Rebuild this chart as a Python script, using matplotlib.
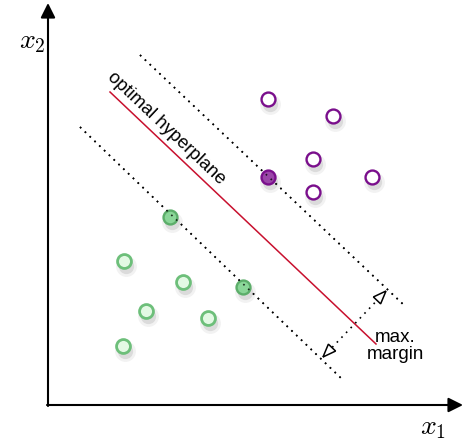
import matplotlib.pyplot as plt
from matplotlib.patches import Polygon
import numpy as np

plt.rcParams["mathtext.fontset"] = "cm"
plt.rcParams["font.family"] = ["Liberation Sans", "DejaVu Sans"]

# ----------------------------------------------------
# Data (pixel-like coordinates, y grows downward)
# ----------------------------------------------------
purple_x = [268, 333, 313, 372, 313]
purple_y = [99, 116, 159, 177, 192]
purple_sv_x = [268]
purple_sv_y = [177]

green_x = [124, 183, 146, 208, 123]
green_y = [261, 282, 311, 318, 346]
green_sv_x = [170, 243]
green_sv_y = [217, 287]

hyperplane_x = [110, 376]
hyperplane_y = [92, 344]
upper_margin_x = [140, 406]
upper_margin_y = [55, 307]
lower_margin_x = [80, 344]
lower_margin_y = [127, 381]

margin_arrow_x = [323, 386]
margin_arrow_y = [357, 291]

# ----------------------------------------------------
# Plot
# ----------------------------------------------------
fig = plt.figure(figsize=(4.64, 4.43), dpi=100)
ax = fig.add_axes([0, 0, 1, 1])
ax.set_xlim(0, 464)
ax.set_ylim(443, 0)
ax.axis("off")

# axes with arrows
ax.annotate("", xy=(48, 3), xytext=(48, 406),
            arrowprops=dict(arrowstyle="-|>", lw=1.5, color="black",
                            mutation_scale=22, shrinkA=0, shrinkB=0))
ax.annotate("", xy=(463, 405), xytext=(47, 405),
            arrowprops=dict(arrowstyle="-|>", lw=1.5, color="black",
                            mutation_scale=22, shrinkA=0, shrinkB=0))
ax.text(32, 42, r"$x_2$", fontsize=20, ha="center", va="center")
ax.text(433, 428, r"$x_1$", fontsize=20, ha="center", va="center")

# hyperplane and margins
ax.plot(hyperplane_x, hyperplane_y, color="#c8102e", lw=1.1)
ax.plot(upper_margin_x, upper_margin_y, color="black", lw=1.2,
        linestyle=(0, (1, 3)))
ax.plot(lower_margin_x, lower_margin_y, color="black", lw=1.2,
        linestyle=(0, (1, 3)))

# margin arrow
ax.plot(margin_arrow_x, margin_arrow_y, color="black", lw=1.2,
        linestyle=(0, (1, 3)))
tips = np.column_stack([margin_arrow_x, margin_arrow_y]).astype(float)
d = tips[1] - tips[0]
d = d / np.linalg.norm(d)
n = np.array([-d[1], d[0]])
for tip, direction in [(tips[0], -d), (tips[1], d)]:
    base = tip - direction * 13
    tri = np.array([tip, base + n * 5, base - n * 5])
    ax.add_patch(Polygon(tri, closed=True, facecolor="white",
                         edgecolor="black", lw=1.1, zorder=5))

# labels
slope = np.degrees(np.arctan2(hyperplane_y[1] - hyperplane_y[0],
                              hyperplane_x[1] - hyperplane_x[0]))
ax.text(166, 128, "optimal hyperplane", fontsize=13.2, rotation=-slope,
        rotation_mode="anchor", ha="center", va="center")
ax.text(395, 346, "max.\nmargin", fontsize=13.5, ha="center", va="center",
        linespacing=1.05)

# shadows
for xs, ys in [(purple_x + purple_sv_x, purple_y + purple_sv_y),
               (green_x + green_sv_x, green_y + green_sv_y)]:
    sx = np.array(xs) + 2
    sy = np.array(ys) + 5
    ax.plot(sx, sy, "o", ms=15, color="gray", alpha=0.10, mec="none")
    ax.plot(sx, sy, "o", ms=11, color="gray", alpha=0.20, mec="none")

# points
ax.plot(purple_x, purple_y, "o", ms=10, mfc="white", mec="#7a0f8c",
        mew=1.7, zorder=6)
ax.plot(purple_sv_x, purple_sv_y, "o", ms=10, mfc="#9a46a8", mec="#7a0f8c",
        mew=1.7, zorder=6)
ax.plot(green_x, green_y, "o", ms=10, mfc="#e3f9e4", mec="#6dbf7a",
        mew=2.0, zorder=6)
ax.plot(green_sv_x, green_sv_y, "o", ms=10, mfc="#8ad698", mec="#5cae6a",
        mew=1.7, zorder=6)

# dotted lines on top of support vectors
ax.plot(upper_margin_x, upper_margin_y, color="black", lw=1.2,
        linestyle=(0, (1, 3)), zorder=7, alpha=0.8)
ax.plot(lower_margin_x, lower_margin_y, color="black", lw=1.2,
        linestyle=(0, (1, 3)), zorder=7, alpha=0.8)

fig.savefig("out.png", dpi=100)
